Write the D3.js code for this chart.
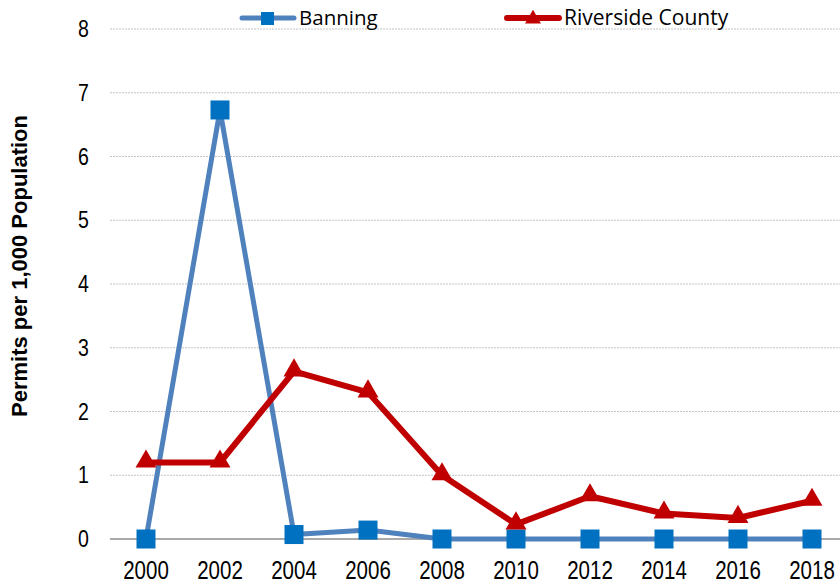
<!DOCTYPE html>
<html>
<head>
<meta charset="utf-8">
<script src="https://cdn.jsdelivr.net/npm/d3@7"></script>
<style>
  body { margin: 0; background: #fff; }
  svg { display: block; }
</style>
</head>
<body>
<div id="root"></div>
<script>
const years = ['2000', '2002', '2004', '2006', '2008', '2010', '2012', '2014', '2016', '2018'];
const banning = [0, 6.73, 0.07, 0.14, 0, 0, 0, 0, 0, 0];
const riverside = [1.2, 1.2, 2.63, 2.3, 1.0, 0.23, 0.67, 0.4, 0.33, 0.6];
const yTicks = [0, 1, 2, 3, 4, 5, 6, 7, 8];

const W = 840, H = 585;
const svg = d3.select('#root').append('svg').attr('width', W).attr('height', H);

// plot area runs a bit past the right edge, like the original
const x = d3.scalePoint().domain(years).range([146, 812]);
const y = d3.scaleLinear().domain([0, 8]).range([539, 29]);

// gridlines
svg.append('g')
  .selectAll('line')
  .data(yTicks.filter(d => d > 0))
  .enter().append('line')
  .attr('x1', 110).attr('x2', W)
  .attr('y1', d => y(d)).attr('y2', d => y(d))
  .attr('stroke', '#c4c4c4')
  .attr('stroke-width', 1)
  .attr('stroke-dasharray', '2,1');

// zero axis line
svg.append('line')
  .attr('x1', 110).attr('x2', W)
  .attr('y1', y(0)).attr('y2', y(0))
  .attr('stroke', '#8c8c8c')
  .attr('stroke-width', 1.5);

// no narrow font installed, so squeeze Liberation Sans a little
const tickFont = '"Liberation Sans", Arial, sans-serif';

// y tick labels
svg.append('g')
  .selectAll('text')
  .data(yTicks)
  .enter().append('text')
  .attr('transform', d => 'translate(89,' + (y(d) + 8) + ') scale(0.85,1)')
  .attr('text-anchor', 'end')
  .attr('font-family', tickFont)
  .attr('font-size', 23)
  .attr('fill', '#000')
  .text(d => d);

// x tick labels
svg.append('g')
  .selectAll('text')
  .data(years)
  .enter().append('text')
  .attr('transform', d => 'translate(' + x(d) + ',579) scale(0.82,1)')
  .attr('text-anchor', 'middle')
  .attr('font-family', tickFont)
  .attr('font-size', 25)
  .attr('fill', '#000')
  .text(d => d);

// y axis title
svg.append('text')
  .attr('transform', 'translate(27,266) rotate(-90)')
  .attr('text-anchor', 'middle')
  .attr('font-family', '"Liberation Sans", Arial, sans-serif')
  .attr('font-weight', 'bold')
  .attr('font-size', 22)
  .attr('fill', '#000')
  .text('Permits per 1,000 Population');

const line = d3.line()
  .x((d, i) => x(years[i]))
  .y(d => y(d));

// Banning
svg.append('path')
  .datum(banning)
  .attr('d', line)
  .attr('fill', 'none')
  .attr('stroke', '#4F81BD')
  .attr('stroke-width', 5)
  .attr('stroke-linejoin', 'round');

// Riverside
svg.append('path')
  .datum(riverside)
  .attr('d', line)
  .attr('fill', 'none')
  .attr('stroke', '#C00000')
  .attr('stroke-width', 6)
  .attr('stroke-linejoin', 'round');

const sq = 19;
svg.append('g')
  .selectAll('rect')
  .data(banning)
  .enter().append('rect')
  .attr('x', (d, i) => x(years[i]) - sq / 2)
  .attr('y', d => y(d) - sq / 2)
  .attr('width', sq).attr('height', sq)
  .attr('fill', '#0070C0');

const tri = d3.symbol().type(d3.symbolTriangle).size(190);
svg.append('g')
  .selectAll('path')
  .data(riverside)
  .enter().append('path')
  .attr('d', tri)
  .attr('transform', (d, i) => 'translate(' + x(years[i]) + ',' + (y(d) - 1) + ')')
  .attr('fill', '#C00000');

// legend
const legFont = '"Open Sans", "Noto Sans", sans-serif';
const leg = svg.append('g');
leg.append('line')
  .attr('x1', 242).attr('x2', 294).attr('y1', 18).attr('y2', 18)
  .attr('stroke', '#4F81BD').attr('stroke-width', 5).attr('stroke-linecap', 'round');
leg.append('rect')
  .attr('x', 261).attr('y', 12).attr('width', 13).attr('height', 13)
  .attr('fill', '#0070C0');
leg.append('text')
  .attr('x', 299).attr('y', 25)
  .attr('font-family', legFont).attr('font-size', 20.5).attr('fill', '#000')
  .text('Banning');

leg.append('line')
  .attr('x1', 507).attr('x2', 559).attr('y1', 18).attr('y2', 18)
  .attr('stroke', '#C00000').attr('stroke-width', 6).attr('stroke-linecap', 'round');
leg.append('path')
  .attr('d', d3.symbol().type(d3.symbolTriangle).size(110))
  .attr('transform', 'translate(533,19)')
  .attr('fill', '#C00000');
leg.append('text')
  .attr('x', 564).attr('y', 25)
  .attr('font-family', legFont).attr('font-size', 21).attr('fill', '#000')
  .text('Riverside County');
</script>
</body>
</html>
